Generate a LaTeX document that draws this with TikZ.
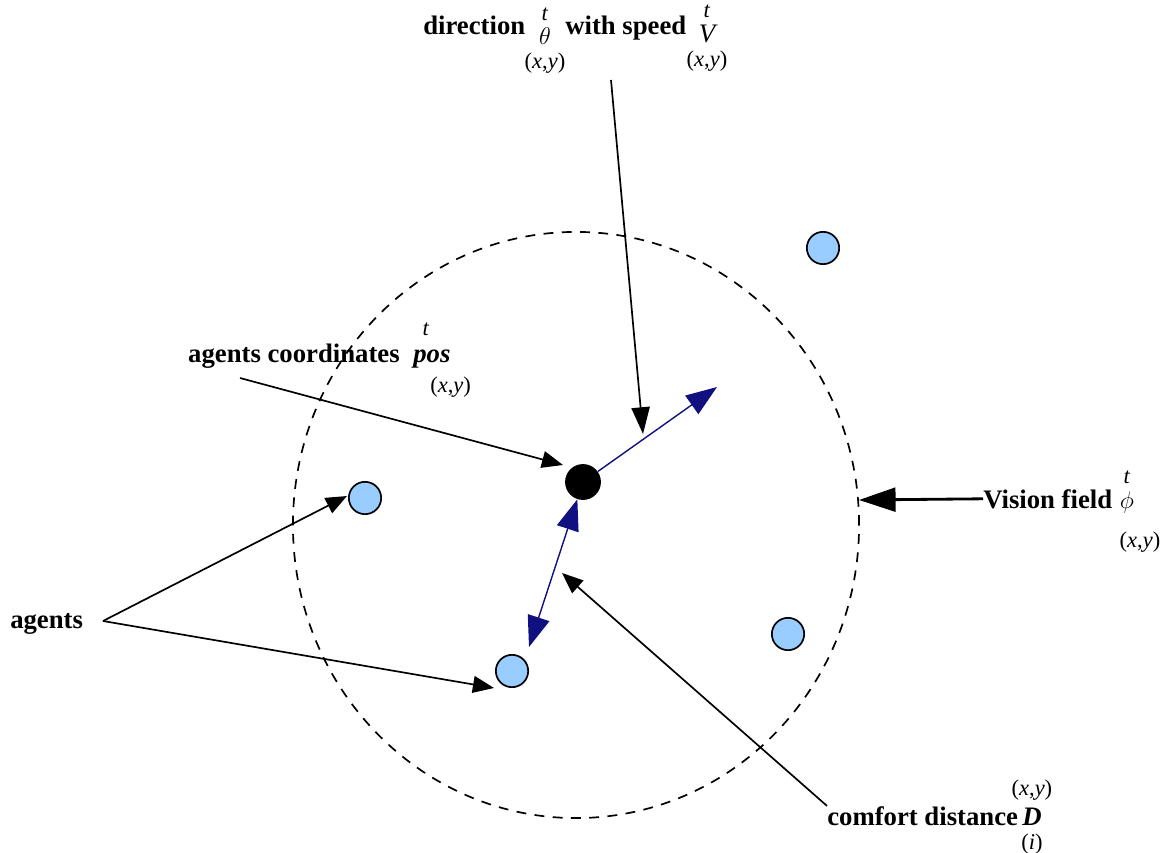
\documentclass[tikz,border=0pt]{standalone}
\usepackage{fontspec}
\setmainfont{Liberation Serif}
\usetikzlibrary{arrows.meta,positioning}
\definecolor{agentblue}{RGB}{153,204,255}
\definecolor{vecblue}{RGB}{16,16,128}
\tikzset{
  lbl/.style={font=\bfseries\fontsize{19}{22}\selectfont, inner sep=0pt},
  sym/.style={font=\itshape\fontsize{19}{22}\selectfont, inner sep=0pt},
  idx/.style={font=\fontsize{16}{18}\selectfont, inner sep=0pt},
  ptr/.style={line width=1.2pt, -{Triangle[length=15pt,width=12pt]}},
  vec/.style={vecblue, line width=1pt, -{Triangle[length=22pt,width=16pt]}},
  agent/.style={circle, draw, line width=1.2pt, fill=agentblue, minimum size=23pt, inner sep=0pt},
  field/.style={line width=1.2pt, dash pattern=on 7pt off 6pt},
}
\newcommand{\xy}{(\textit{x},\textit{y})}
\begin{document}
\begin{tikzpicture}[x=0.025cm,y=-0.025cm]
\useasboundingbox (0,0) rectangle (1168,853);
% --- vision field and agents ---
\draw[field] (576,525) ellipse [x radius=7.075cm, y radius=7.325cm];
\node[agent] (b1) at (365,498) {};
\node[agent] (b2) at (512,671) {};
\node[agent] (b3) at (823,248) {};
\node[agent] (b4) at (788,634) {};
\node[circle, fill=black, minimum size=25.5pt, inner sep=0pt] (me) at (583,482) {};
% --- labels ---
\node[lbl,anchor=base west] (dirtxt) at (423,35) {direction};
\node[sym,anchor=base] (theta) at (545,45) {$\theta$};
\node[idx,above=5pt of theta] (thetat) {\textit{t}};
\node[idx,below=5pt of theta] (thetaxy) {\xy};
\node[lbl,anchor=base west] (speedtxt) at (565,35) {with speed};
\node[sym,anchor=base] (vel) at (707,43) {V};
\node[idx,above=5pt of vel] (velt) {\textit{t}};
\node[idx,below=5pt of vel] (velxy) {\xy};
\node[lbl,anchor=base east] (coordtxt) at (400,362) {agents coordinates};
\node[lbl,anchor=base west] (pos) at (413,362) {\itshape pos};
\node[idx,anchor=south] (post) at (426,336) {\textit{t}};
\node[idx,below=6pt of pos.south east,anchor=north] (posxy) {\xy};
\node[lbl,anchor=base west] (vision) at (983,508) {Vision field};
\node[sym,anchor=base] (phi) at (1127,508) {$\phi$};
\node[idx,above=5pt of phi] (phit) {\textit{t}};
\node[idx,anchor=north] (phixy) at (1140,532) {\xy};
\node[lbl,anchor=base west] (agents) at (10,628) {agents};
\node[lbl,anchor=base west] (comfort) at (827,825) {comfort distance};
\node[lbl,anchor=base west] (dist) at (1022,825) {\itshape D};
\node[idx,above=5pt of dist] (distxy) {\xy};
\node[idx,below=6pt of dist] (disti) {(\textit{i})};
% --- connectors ---
\coordinate (dirtop) at (611,80);
\coordinate (dirtip) at (643,434);
\coordinate (heading) at (717,387);
\coordinate (gaptip) at (529,647);
\coordinate (gapmark) at (562,573);
\coordinate (coordtail) at (240,378);
\coordinate (coordtip) at (563,465);
\coordinate (fork) at (103,621);
\coordinate (b1in) at (347,496);
\coordinate (b2in) at (494,688);
\coordinate (fieldedge) at (859,500);
\draw[ptr, -{Triangle[length=19pt,width=13pt]}] (dirtop) -- (dirtip);
\draw[vec] (me) -- (heading);
\draw[vec, {Triangle[length=22pt,width=16pt]}-{Triangle[length=22pt,width=16pt]}] (me) -- (gaptip);
\draw[ptr] (comfort.north west) -- (gapmark);
\draw[ptr] (coordtail) -- (coordtip);
\draw[ptr] (fork) -- (b1in);
\draw[ptr] (fork) -- (b2in);
\draw[ptr, line width=2pt, -{Triangle[length=26pt,width=17pt]}] (vision.west) -- (fieldedge);
\end{tikzpicture}
\end{document}
